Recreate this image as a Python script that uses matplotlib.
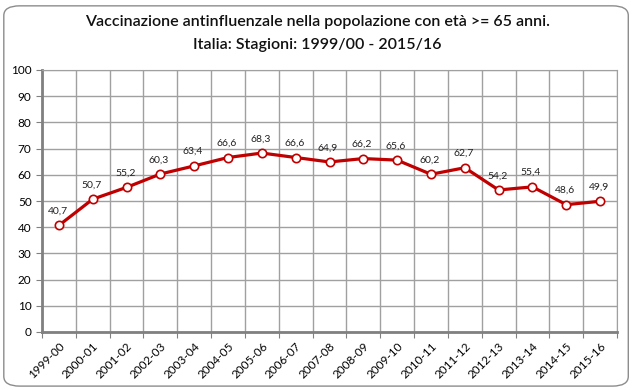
import matplotlib.pyplot as plt
from matplotlib.patches import FancyBboxPatch
import numpy as np

seasons = ['1999-00', '2000-01', '2001-02', '2002-03', '2003-04', '2004-05',
           '2005-06', '2006-07', '2007-08', '2008-09', '2009-10', '2010-11',
           '2011-12', '2012-13', '2013-14', '2014-15', '2015-16']
coverage = [40.7, 50.7, 55.2, 60.3, 63.4, 66.6, 68.3, 66.6, 64.9, 66.2,
            65.6, 60.2, 62.7, 54.2, 55.4, 48.6, 49.9]

plt.rcParams['font.family'] = ['Lato', 'DejaVu Sans']

fig = plt.figure(figsize=(6.34, 3.9), dpi=100)
# rounded chart border, kept behind the axes
fig.patches.append(FancyBboxPatch((0.006, 0.01), 0.985, 0.975,
                                  boxstyle='round,pad=0,rounding_size=0.025',
                                  transform=fig.transFigure, facecolor='white',
                                  edgecolor='#8c8c8c', linewidth=1.0,
                                  zorder=-10))

ax = fig.add_axes([42 / 634, 1 - 332 / 390, 575 / 634, 262 / 390])
ax.set_facecolor('none')
n = len(seasons)
x = np.arange(n)

ax.plot(x, coverage, color='#c00000', linewidth=2.3, marker='o',
        markersize=6, markerfacecolor='white', markeredgecolor='#c00000',
        markeredgewidth=1.2, zorder=3)
for xi, v in zip(x, coverage):
    ax.annotate(f'{v:.1f}'.replace('.', ','), (xi, v), xytext=(-1, 7),
                textcoords='offset points', ha='center', va='bottom',
                fontsize=7.5, color='#222222')

ax.set_xlim(-0.5, n - 0.5)
ax.set_ylim(0, 100)
ax.set_yticks(range(0, 101, 10))
ax.set_xticks(np.arange(-0.5, n, 1.0))
ax.set_xticklabels([])
ax.set_xticks(x, minor=True)
ax.set_xticklabels(seasons, minor=True, rotation=45, ha='right',
                   rotation_mode='anchor', fontsize=8.5)
ax.tick_params(axis='x', which='minor', length=0, pad=6)
ax.tick_params(axis='x', which='major', length=4, color='#808080')
ax.tick_params(axis='y', length=4, color='#808080', labelsize=8.5)
ax.grid(True, which='major', color='#a0a0a0', linewidth=1.0)
ax.set_axisbelow(True)
for s in ['top', 'right']:
    ax.spines[s].set_color('#a0a0a0')
for s in ['left', 'bottom']:
    ax.spines[s].set_color('#808080')
    ax.spines[s].set_linewidth(2)

fig.text(0.5, 0.943, 'Vaccinazione antinfluenzale nella popolazione con età >= 65 anni.',
         ha='center', va='center', fontsize=11.5, fontweight='semibold',
         color='#111111')
fig.text(0.5, 0.885, 'Italia: Stagioni: 1999/00 - 2015/16',
         ha='center', va='center', fontsize=11.5, fontweight='semibold',
         color='#111111')

fig.savefig('out.png', dpi=100)
